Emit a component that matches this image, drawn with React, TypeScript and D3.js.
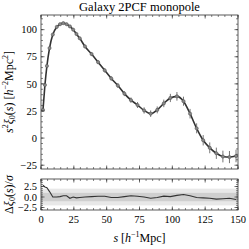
import React from 'react';
import * as d3 from 'd3';

// separation bins [h^-1 Mpc]
const sVals = [1.5, 3, 4.5, 6.5, 9, 12, 14.5, 17, 19.5, 22, 24.5, 27, 29.5, 33.5, 38.5, 43.5, 48.5, 53.5, 58.5, 63.5, 68.5, 73.5, 78.5, 83.5, 88.5, 93.5, 98.5, 103.5, 108.5, 113.5, 118.5, 123.5, 128.5, 133.5, 138.5, 143.5, 148.5];
// s^2 xi_0(s)
const xiVals = [26, 49, 66.5, 83, 95.5, 102.5, 105, 106, 105, 103, 100, 96, 92, 84.5, 77.5, 70, 62.5, 55, 48.5, 41, 35, 30.5, 25.5, 22.5, 26, 32, 37, 38.5, 34, 22.5, 9, -2, -9, -14, -17, -17.5, -16.5];
const errVals = [1, 1, 1, 1, 1, 1, 1, 1.1, 1.1, 1.2, 1.3, 1.4, 1.5, 1.6, 1.7, 1.8, 1.9, 2, 2.2, 2.3, 2.5, 2.7, 2.9, 3, 3.2, 3.5, 3.8, 4, 4.2, 4.4, 4.6, 4.8, 5, 5.2, 5.4, 5.6, 5.8];
// residuals (data - model) / sigma
const residVals = [2.8, 2.4, 2.2, 1.3, 0.0, 0.0, 0.1, 0.3, 0.3, -0.3, 0.0, -0.2, -0.1, 0.0, 0.1, 0.2, 0.2, -0.1, -0.1, 0.1, 0.3, 0.2, 0.0, -0.3, -0.1, 0.2, 0.1, 0.4, 0.6, 0.3, -0.1, -0.2, -0.3, -0.5, -0.4, -0.3, -0.6];

const xTicks = [0, 25, 50, 75, 100, 125, 150];
const yTicks = [-25, 0, 25, 50, 75, 100];
const rTicks = [-2.5, 0, 2.5];

const font = '"Liberation Serif", "DejaVu Serif", serif';
const axisCol = '#333';

const L = 41, R = 238;
const top1 = 15, bot1 = 169;
const top2 = 179, bot2 = 210;

const App = () => {
  const x = d3.scaleLinear().domain([0, 150]).range([L, R]);
  const y = d3.scaleLinear().domain([-28.5, 113.5]).range([bot1, top1]);
  const yr = d3.scaleLinear().domain([-3.1, 4.3]).range([bot2, top2]);

  const pts = sVals.map((s, i) => ({ s, v: xiVals[i], e: errVals[i], r: residVals[i] }));

  const line = d3.line<any>().x((d) => x(d.s)).y((d) => y(d.v)).curve(d3.curveMonotoneX);
  const rline = d3.line<any>().x((d) => x(d.s)).y((d) => yr(d.r));

  const xMinor = d3.range(0, 151, 5);
  const yMinor = d3.range(-25, 111, 5);
  const rMinor = d3.range(-3, 4.01, 0.5);

  const frame = (t: number, b: number, ys: any, major: number[], minor: number[]) => (
    <g>
      {xMinor.map((v) => (
        <g key={'xm' + v}>
          <line x1={x(v)} x2={x(v)} y1={b} y2={b - 2} stroke={axisCol} strokeWidth={0.6} />
          <line x1={x(v)} x2={x(v)} y1={t} y2={t + 2} stroke={axisCol} strokeWidth={0.6} />
        </g>
      ))}
      {xTicks.map((v) => (
        <g key={'xM' + v}>
          <line x1={x(v)} x2={x(v)} y1={b} y2={b - 3.5} stroke={axisCol} strokeWidth={0.7} />
          <line x1={x(v)} x2={x(v)} y1={t} y2={t + 3.5} stroke={axisCol} strokeWidth={0.7} />
        </g>
      ))}
      {minor.map((v) => (
        <g key={'ym' + v}>
          <line x1={L} x2={L + 2} y1={ys(v)} y2={ys(v)} stroke={axisCol} strokeWidth={0.6} />
          <line x1={R} x2={R - 2} y1={ys(v)} y2={ys(v)} stroke={axisCol} strokeWidth={0.6} />
        </g>
      ))}
      {major.map((v) => (
        <g key={'yM' + v}>
          <line x1={L} x2={L + 3.5} y1={ys(v)} y2={ys(v)} stroke={axisCol} strokeWidth={0.7} />
          <line x1={R} x2={R - 3.5} y1={ys(v)} y2={ys(v)} stroke={axisCol} strokeWidth={0.7} />
        </g>
      ))}
      <rect x={L} y={t} width={R - L} height={b - t} fill="none" stroke={axisCol} strokeWidth={0.8} />
    </g>
  );

  return (
    <svg width={249} height={249} style={{ position: 'absolute', left: 0, top: 0 }}>
      <rect width={249} height={249} fill="#fff" />
      <text x={(L + R) / 2} y={11} textAnchor="middle" fontFamily={font} fontSize={12.5}>Galaxy 2PCF monopole</text>

      {/* main panel */}
      <path d={line(pts) || ''} fill="none" stroke="#333" strokeWidth={1.6} />
      {pts.map((d, i) => (
        <g key={'p' + i}>
          <line x1={x(d.s)} x2={x(d.s)} y1={y(d.v - d.e)} y2={y(d.v + d.e)} stroke="#777" strokeWidth={1} />
          <circle cx={x(d.s)} cy={y(d.v)} r={1.6} fill="#888" stroke="#555" strokeWidth={0.6} />
        </g>
      ))}
      {frame(top1, bot1, y, yTicks, yMinor)}
      {yTicks.map((v) => (
        <text key={'yl' + v} x={L - 4} y={y(v)} dy="0.35em" textAnchor="end" fontFamily={font} fontSize={10.5}>
          {v < 0 ? '\u2212' + Math.abs(v) : v}
        </text>
      ))}
      <text transform={`translate(13,${(top1 + bot1) / 2}) rotate(-90)`} textAnchor="middle" fontFamily={font} fontSize={12}>
        <tspan fontStyle="italic">s</tspan><tspan fontSize={8} dy={-5}>2</tspan>
        <tspan fontStyle="italic" dy={5}>ξ</tspan><tspan fontSize={8} dy={2}>0</tspan>
        <tspan dy={-2}>(</tspan><tspan fontStyle="italic">s</tspan><tspan>) [</tspan>
        <tspan fontStyle="italic">h</tspan><tspan fontSize={8} dy={-5}>−2</tspan>
        <tspan dy={5}>Mpc</tspan><tspan fontSize={8} dy={-5}>2</tspan><tspan dy={5}>]</tspan>
      </text>

      {/* residual panel */}
      <rect x={L} y={yr(2)} width={R - L} height={yr(-2) - yr(2)} fill="#e8e8e8" />
      <rect x={L} y={yr(1)} width={R - L} height={yr(-1) - yr(1)} fill="#cfcfcf" />
      <path d={rline(pts) || ''} fill="none" stroke="#333" strokeWidth={1.1} />
      {frame(top2, bot2, yr, rTicks, rMinor)}
      {rTicks.map((v) => (
        <text key={'rl' + v} x={L - 4} y={yr(v)} dy="0.35em" textAnchor="end" fontFamily={font} fontSize={10.5}>
          {v < 0 ? '\u2212' + Math.abs(v).toFixed(1) : v.toFixed(1)}
        </text>
      ))}
      <text transform={`translate(13,${(top2 + bot2) / 2}) rotate(-90)`} textAnchor="middle" fontFamily={font} fontSize={12}>
        <tspan>Δ</tspan><tspan fontStyle="italic">ξ</tspan><tspan fontSize={8} dy={2}>0</tspan>
        <tspan dy={-2}>(</tspan><tspan fontStyle="italic">s</tspan><tspan>)/</tspan><tspan fontStyle="italic">σ</tspan>
      </text>
      {xTicks.map((v) => (
        <text key={'xl' + v} x={x(v)} y={bot2 + 13} textAnchor="middle" fontFamily={font} fontSize={10.5}>{v}</text>
      ))}
      <text x={(L + R) / 2} y={bot2 + 32} textAnchor="middle" fontFamily={font} fontSize={12}>
        <tspan fontStyle="italic">s</tspan><tspan> [</tspan><tspan fontStyle="italic">h</tspan>
        <tspan fontSize={8} dy={-5}>−1</tspan><tspan dy={5}>Mpc]</tspan>
      </text>
    </svg>
  );
};

export default App;
